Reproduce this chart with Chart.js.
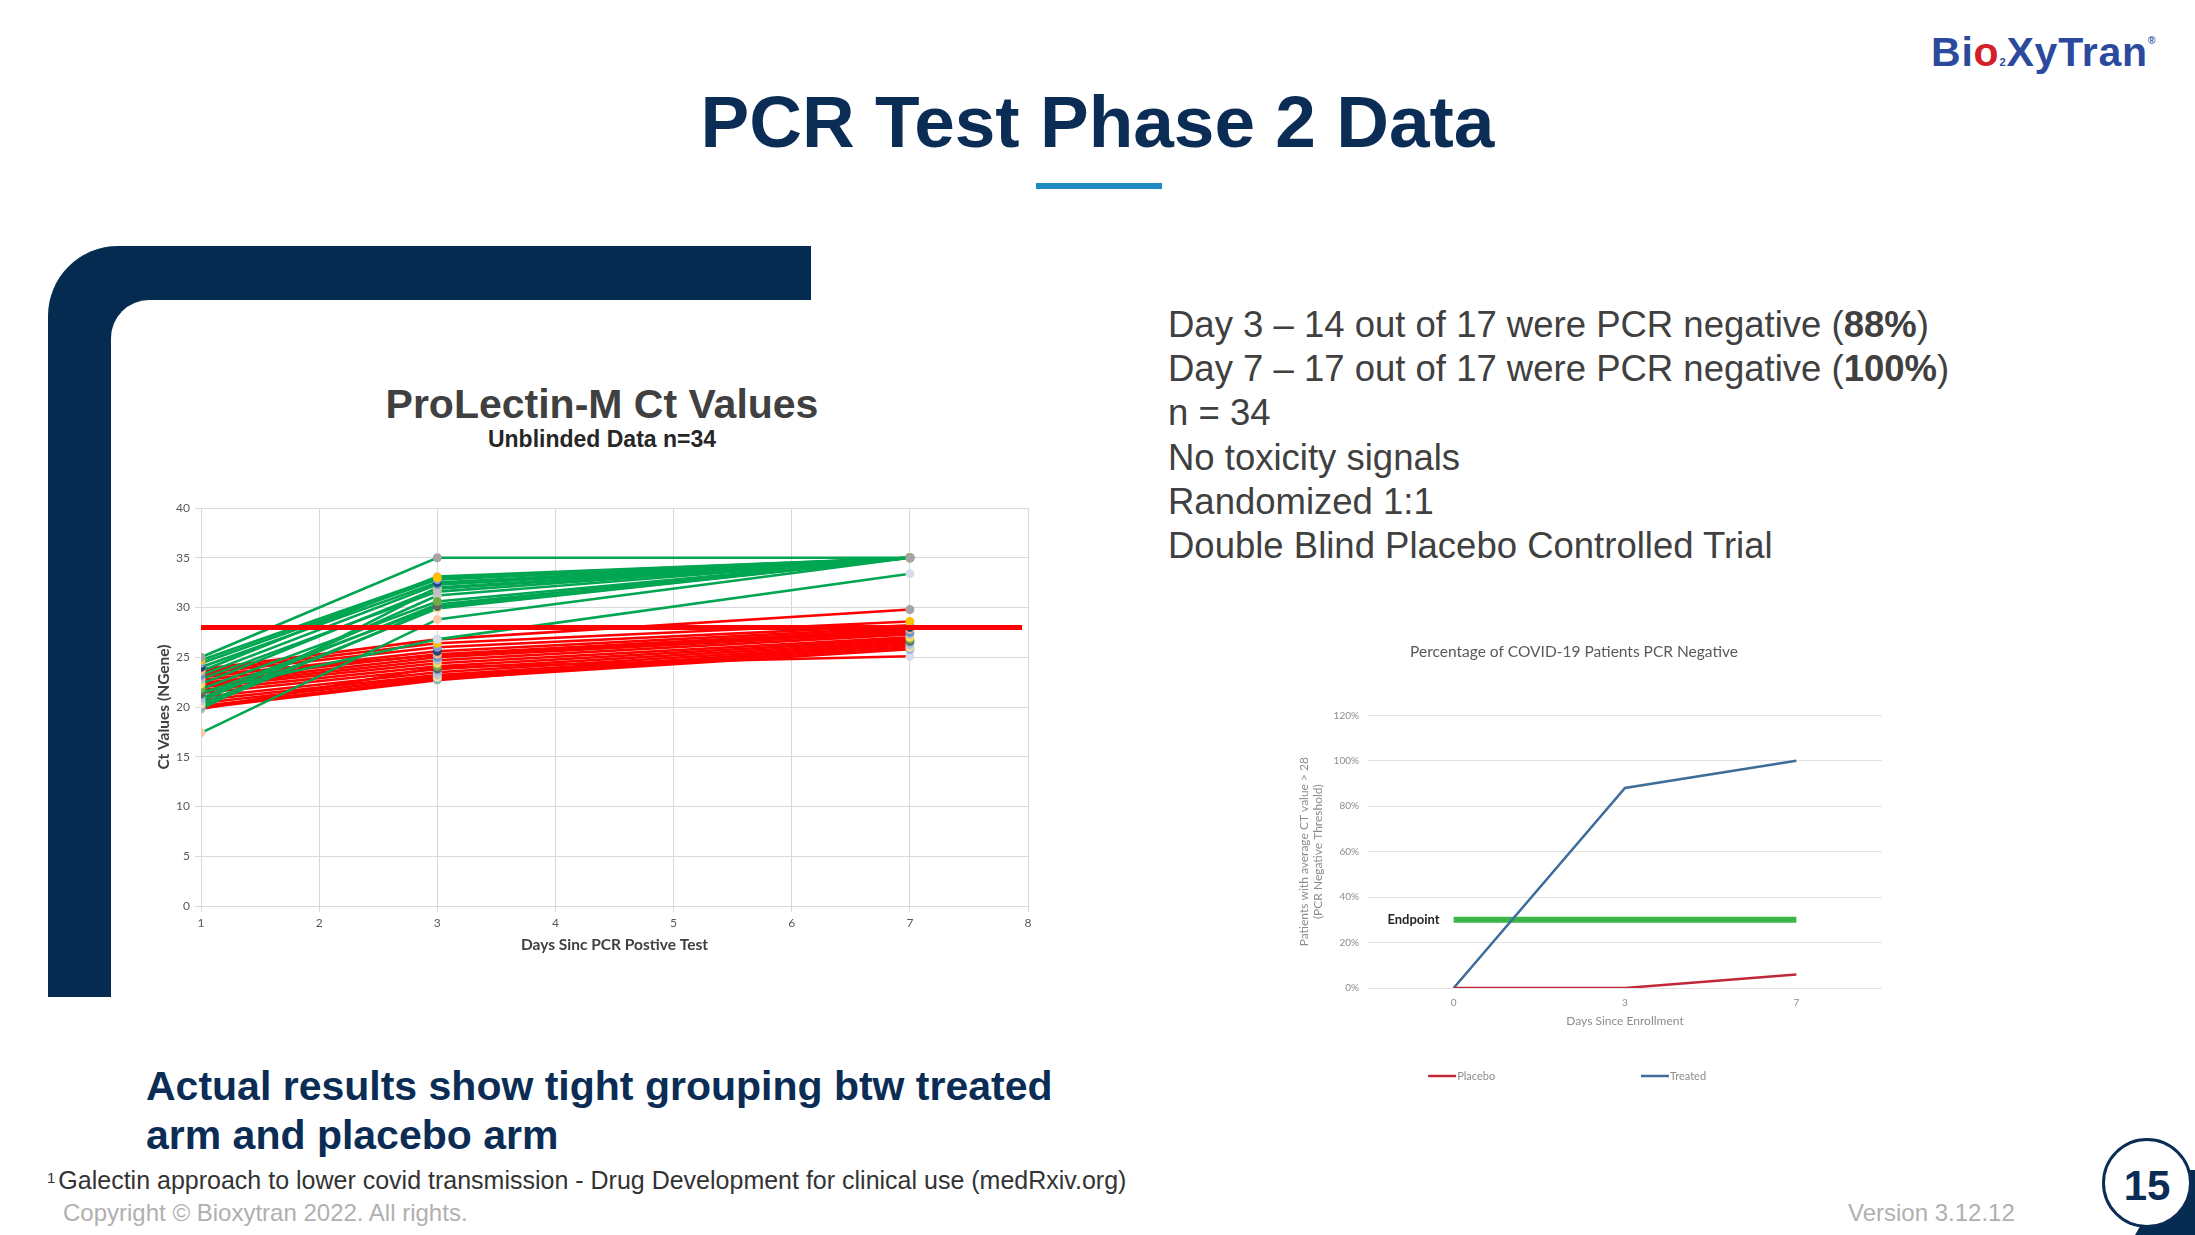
<!DOCTYPE html>
<html>
<head>
<meta charset="utf-8">
<script src="https://cdn.jsdelivr.net/npm/chart.js@4.4.0/dist/chart.umd.min.js"></script>
<style>
  html, body { margin: 0; padding: 0; background: #fff; }
  body { width: 2195px; height: 1235px; position: relative; overflow: hidden; font-family: "Liberation Sans", Arial, sans-serif; }
  .t { position: absolute; white-space: nowrap; line-height: 1; }
  #frame { position: absolute; left: 48px; top: 246px; width: 763px; height: 751px; background: #062b50; border-top-left-radius: 70px; }
  #frameHole { position: absolute; left: 111px; top: 300px; width: 700px; height: 697px; background: #fff; border-top-left-radius: 38px; }
  canvas { position: absolute; }
</style>
</head>
<body>

<!-- logo -->
<div class="t" style="left:1931px; top:32px; font-size:41px; font-weight:bold; color:#2b4a9e; letter-spacing:0.8px;">Bi<span style="color:#d4202a;">o</span><span style="font-size:11px; color:#2b4a9e;">2</span>XyTran<span style="font-size:10px; vertical-align:22px;">®</span></div>

<!-- title -->
<div class="t" style="left:0; width:2195px; text-align:center; top:85px; font-size:73px; font-weight:bold; color:#0b2d55;">PCR Test Phase 2 Data</div>
<div style="position:absolute; left:1036px; top:183px; width:126px; height:6px; background:#1e8bc3;"></div>

<!-- navy frame -->
<div id="frame"></div>
<div id="frameHole"></div>

<!-- left chart heading -->
<div class="t" style="left:302px; width:600px; text-align:center; top:384px; font-size:41px; font-weight:bold; color:#404040;">ProLectin-M Ct Values</div>
<div class="t" style="left:302px; width:600px; text-align:center; top:428px; font-size:23px; font-weight:bold; color:#262626;">Unblinded Data n=34</div>

<!-- right text block -->
<div class="t" style="left:1168px; top:307px; font-size:36.5px; color:#404040;">Day 3 – 14 out of 17 were PCR negative (<b>88%</b>)</div>
<div class="t" style="left:1168px; top:351px; font-size:36.5px; color:#404040;">Day 7 – 17 out of 17 were PCR negative (<b>100%</b>)</div>
<div class="t" style="left:1168px; top:395px; font-size:36.5px; color:#404040;">n = 34</div>
<div class="t" style="left:1168px; top:440px; font-size:36.5px; color:#404040;">No toxicity signals</div>
<div class="t" style="left:1168px; top:484px; font-size:36.5px; color:#404040;">Randomized 1:1</div>
<div class="t" style="left:1168px; top:528px; font-size:36.5px; color:#404040;">Double Blind Placebo Controlled Trial</div>

<!-- bottom statement -->
<div class="t" style="left:146px; top:1066px; font-size:41px; font-weight:bold; color:#0b2d55;">Actual results show tight grouping btw treated</div>
<div class="t" style="left:146px; top:1115px; font-size:41px; font-weight:bold; color:#0b2d55;">arm and placebo arm</div>

<!-- footnote / footer -->
<div class="t" style="left:47px; top:1168px; font-size:25px; color:#333;"><span style="font-size:15px; vertical-align:6px; margin-right:3px;">1</span>Galectin approach to lower covid transmission - Drug Development for clinical use (medRxiv.org)</div>
<div class="t" style="left:63px; top:1201px; font-size:24px; color:#b0b0b0;">Copyright © Bioxytran 2022. All rights.</div>
<div class="t" style="left:1848px; top:1201px; font-size:24px; color:#b0b0b0;">Version 3.12.12</div>

<!-- page number -->
<div style="position:absolute; left:2120px; top:1170px; width:75px; height:65px; background:#062b50; clip-path:polygon(70% 0, 100% 0, 100% 100%, 20% 100%);"></div>
<div style="position:absolute; left:2102px; top:1138px; width:84px; height:84px; border:3px solid #0b2d55; border-radius:50%; background:#fff;"></div>
<div class="t" style="left:2102px; width:90px; text-align:center; top:1165px; font-size:42px; font-weight:bold; color:#0b2d55;">15</div>

<canvas id="ctChart" width="920" height="470" style="left:130px; top:495px;"></canvas>
<canvas id="pctChart" width="616" height="465" style="left:1266px; top:630px;"></canvas>

<script>
// ---- ProLectin-M Ct values (one value per patient, per day) ----
const ctDays = [1, 3, 7];
const treatedDay1 = [25.0, 24.7, 24.4, 24.0, 23.6, 23.2, 22.8, 22.3, 21.8, 21.3, 20.9, 20.6, 20.3, 20.0, 19.8, 21.5, 17.4];
const treatedDay3 = [35.0, 33.0, 32.8, 32.5, 33.1, 32.3, 31.6, 31.9, 30.6, 30.1, 30.3, 31.2, 29.9, 30.0, 32.0, 26.8, 28.8];
const treatedDay7 = [35.0, 35.0, 35.0, 35.0, 35.0, 35.0, 35.0, 35.0, 35.0, 35.0, 35.0, 35.0, 35.0, 35.0, 35.0, 33.4, 35.0];
const placeboDay1 = [23.8, 23.6, 23.4, 23.0, 22.7, 22.4, 22.2, 22.0, 21.7, 21.4, 21.0, 20.7, 20.4, 20.1, 19.9, 19.8, 23.2];
const placeboDay3 = [26.8, 26.4, 26.0, 25.6, 25.3, 25.0, 24.7, 24.4, 24.1, 23.8, 23.5, 23.2, 23.0, 22.8, 22.7, 24.0, 25.2];
const placeboDay7 = [29.8, 28.6, 28.2, 28.0, 27.8, 27.5, 27.3, 27.0, 26.8, 26.6, 26.4, 26.2, 26.0, 25.8, 26.5, 25.1, 27.6];
const thresholdCt = 28;
const thresholdDays = [1, 7.95];
const markerColors = ['#a5a5a5', '#ffc000', '#7f9fd0', '#264478', '#f4b183', '#5b9bd5', '#bfbfbf', '#ffd966', '#70ad47',
                      '#636363', '#9dc3e6', '#c9c9c9', '#ffe699', '#8faadc', '#a9d18e', '#d6dce5', '#f8cbad'];

// ---- Percentage PCR negative ----
const enrollDays = ['0', '3', '7'];
const placeboPct = [0, 0, 5.9];
const treatedPct = [0, 88, 100];
const endpointPct = [30, 30, 30];

const chartFont = 'Lato, "Open Sans", sans-serif';

function patientSet(d1, d3, d7, i, color) {
    const vals = [d1[i], d3[i], d7[i]];
    return {
        data: ctDays.map((d, k) => ({ x: d, y: vals[k] })),
        borderColor: color,
        borderWidth: 2.6,
        pointRadius: 3.2,
        pointBackgroundColor: markerColors[i % markerColors.length],
        pointBorderColor: markerColors[i % markerColors.length]
    };
}

// threshold first so it is painted on top
const ctSets = [{
    data: thresholdDays.map(d => ({ x: d, y: thresholdCt })),
    borderColor: '#ff0000',
    borderWidth: 5,
    pointRadius: 0
}];
treatedDay1.forEach((v, i) => ctSets.push(patientSet(treatedDay1, treatedDay3, treatedDay7, i, '#00a651')));
placeboDay1.forEach((v, i) => ctSets.push(patientSet(placeboDay1, placeboDay3, placeboDay7, i, '#ff0000')));

new Chart(document.getElementById('ctChart'), {
    type: 'line',
    data: { datasets: ctSets },
    options: {
        responsive: false,
        animation: false,
        layout: { padding: { top: 13, right: 22 } },
        plugins: {
            legend: { display: false },
            tooltip: { enabled: false }
        },
        scales: {
            x: {
                type: 'linear', min: 1, max: 8,
                ticks: { stepSize: 1, color: '#595959', font: { family: chartFont, size: 12 }, padding: 4 },
                grid: { color: '#d9d9d9', tickLength: 6 },
                border: { color: '#d9d9d9' },
                title: { display: true, text: 'Days Sinc PCR Postive Test', color: '#404040',
                         font: { family: chartFont, size: 15.5, weight: 'bold' }, padding: { top: 0, bottom: 11 } },
                afterFit: s => { s.height = 59; }
            },
            y: {
                min: 0, max: 40,
                ticks: { stepSize: 5, color: '#595959', font: { family: chartFont, size: 12 }, padding: 5 },
                grid: { color: '#d9d9d9', tickLength: 6 },
                border: { color: '#d9d9d9' },
                title: { display: true, text: 'Ct Values (NGene)', color: '#404040',
                         font: { family: chartFont, size: 15.5, weight: 'bold' }, padding: { top: 25, bottom: 0 } },
                afterFit: s => { s.width = 71; }
            }
        }
    }
});

// endpoint label + legend drawn next to the percent chart
const pctExtras = {
    id: 'pctExtras',
    afterDatasetsDraw(chart) {
        const ctx = chart.ctx;
        const area = chart.chartArea;
        const ep = chart.getDatasetMeta(2).data[0];
        ctx.save();
        ctx.font = 'bold 13px ' + chartFont;
        ctx.fillStyle = '#262626';
        ctx.textAlign = 'right';
        ctx.textBaseline = 'middle';
        ctx.fillText('Endpoint', ep.x - 14, ep.y);

        const y = area.bottom + 88;
        const starts = [area.left + area.width * 0.117, area.left + area.width * 0.531];
        [0, 1].forEach((idx, k) => {
            const ds = chart.data.datasets[idx];
            const x0 = starts[k];
            ctx.strokeStyle = ds.borderColor;
            ctx.lineWidth = 2.5;
            ctx.beginPath();
            ctx.moveTo(x0, y);
            ctx.lineTo(x0 + 28, y);
            ctx.stroke();
            ctx.font = '11px ' + chartFont;
            ctx.fillStyle = '#8c8c8c';
            ctx.textAlign = 'left';
            ctx.fillText(ds.label, x0 + 29, y);
        });
        ctx.restore();
    }
};

new Chart(document.getElementById('pctChart'), {
    type: 'line',
    data: {
        labels: enrollDays,
        datasets: [
            { label: 'Placebo', data: placeboPct, borderColor: '#c0283a', borderWidth: 2.5, pointRadius: 0 },
            { label: 'Treated', data: treatedPct, borderColor: '#3e6d98', borderWidth: 2.5, pointRadius: 0 },
            { label: 'Endpoint', data: endpointPct, borderColor: '#3cb54a', borderWidth: 6, pointRadius: 0 }
        ]
    },
    options: {
        responsive: false,
        animation: false,
        layout: { padding: { right: 0, bottom: 57 } },
        plugins: {
            legend: { display: false },
            tooltip: { enabled: false },
            title: {
                display: true,
                text: 'Percentage of COVID-19 Patients PCR Negative',
                color: '#595959',
                font: { family: chartFont, size: 15.5, weight: 'normal', lineHeight: 1.2 },
                padding: { top: 12.7, bottom: 54 }
            }
        },
        scales: {
            x: {
                offset: true,
                grid: { display: false },
                border: { display: false },
                ticks: { color: '#8c8c8c', font: { family: chartFont, size: 10 }, padding: 1 },
                title: { display: true, text: 'Days Since Enrollment', color: '#8c8c8c',
                         font: { family: chartFont, size: 12 }, padding: { top: 0, bottom: 9.8 } },
                afterFit: s => { s.height = 50; }
            },
            y: {
                min: 0, max: 120,
                ticks: { stepSize: 20, color: '#8c8c8c', font: { family: chartFont, size: 10 }, padding: 9,
                         callback: v => v + '%' },
                grid: { color: '#e3e3e3', drawTicks: false },
                border: { display: false },
                title: { display: true, text: ['Patients with average CT value > 28', '(PCR Negative Threshold)'],
                         color: '#8c8c8c', font: { family: chartFont, size: 12 }, padding: { top: 31, bottom: 0 } },
                afterFit: s => { s.width = 102; }
            }
        }
    },
    plugins: [pctExtras]
});
</script>
</body>
</html>
